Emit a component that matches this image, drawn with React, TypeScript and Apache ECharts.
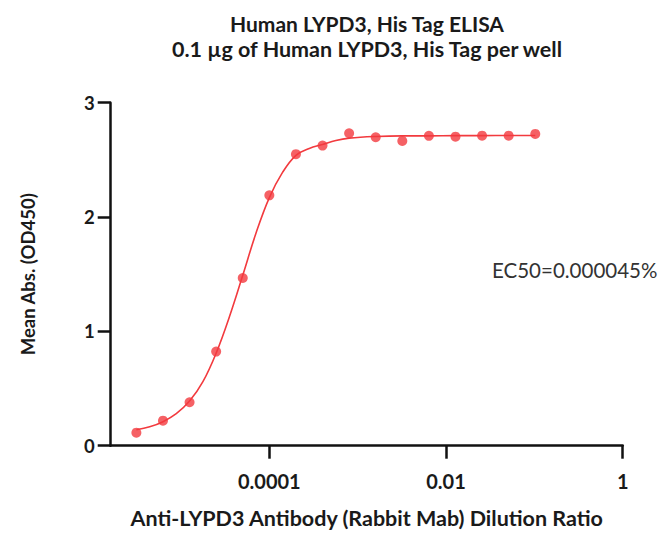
import React, { useEffect, useRef } from 'react';
import * as echarts from 'echarts';

const titleLines = ['Human LYPD3, His Tag ELISA', '0.1 µg of Human LYPD3, His Tag per well'];
const xAxisName = 'Anti-LYPD3 Antibody (Rabbit Mab) Dilution Ratio';
const yAxisName = 'Mean Abs. (OD450)';
const ec50Label = 'EC50=0.000045%';

// measured points
const dilution = [
  0.000003125, 0.00000625, 0.0000125, 0.000025, 0.00005, 0.0001, 0.0002, 0.0004,
  0.0008, 0.0016, 0.0032, 0.0064, 0.0128, 0.0256, 0.0512, 0.1024,
];
const meanAbs = [
  0.114, 0.219, 0.38, 0.823, 1.467, 2.19, 2.55, 2.625,
  2.733, 2.698, 2.666, 2.71, 2.703, 2.712, 2.712, 2.727,
];

// fitted curve
const curveX = [
  0.000003125, 0.00000442, 0.00000625, 0.00000884, 0.0000125, 0.0000177, 0.000025, 0.0000354,
  0.00005, 0.0000707, 0.0001, 0.000141, 0.0002, 0.000283, 0.0004, 0.000566,
  0.0008, 0.0016, 0.0032, 0.0064, 0.0128, 0.0256, 0.0512, 0.1024,
];
const curveY = [
  0.14, 0.165, 0.21, 0.28, 0.39, 0.56, 0.81, 1.13,
  1.49, 1.86, 2.17, 2.39, 2.54, 2.6, 2.635, 2.67,
  2.69, 2.705, 2.71, 2.71, 2.712, 2.712, 2.713, 2.713,
];

const xMin = 0.0000016;
const xMax = 1;
const xTickValues = [0.0001, 0.01, 1];
const xTickLabels = ['0.0001', '0.01', '1'];
const yMin = 0;
const yMax = 3;
const yInterval = 1;

const RED = '#f23a3e';
const FONT = 'Lato, "Noto Sans", sans-serif';

export default function App() {
  const ref = useRef<HTMLDivElement>(null);

  useEffect(() => {
    if (!ref.current) return;
    const chart = echarts.init(ref.current, undefined, { renderer: 'svg' });
    const option = {
      animation: false,
      backgroundColor: '#ffffff',
      grid: { left: 110.7, right: 37.3, top: 102.7, bottom: 91.3, containLabel: false },
      graphic: [
        {
          type: 'text', x: 367, y: 23,
          style: { text: titleLines[0], align: 'center', verticalAlign: 'middle', font: `bold 21px ${FONT}`, fill: '#1a1a1a' },
        },
        {
          type: 'text', x: 367, y: 48.5,
          style: { text: titleLines[1], align: 'center', verticalAlign: 'middle', font: `bold 21.5px ${FONT}`, fill: '#1a1a1a' },
        },
        {
          type: 'text', x: 492, y: 270,
          style: { text: ec50Label, align: 'left', verticalAlign: 'middle', font: `20.5px ${FONT}`, fill: '#333333' },
        },
      ],
      xAxis: {
        type: 'log',
        logBase: 10,
        min: xMin,
        max: xMax,
        name: xAxisName,
        nameLocation: 'middle',
        nameGap: 61,
        nameTextStyle: { fontFamily: FONT, fontWeight: 'bold', fontSize: 21.5, color: '#1a1a1a' },
        axisLine: { show: true, lineStyle: { color: '#111', width: 2.5 } },
        axisTick: { show: true, inside: false, length: 13, lineStyle: { color: '#111', width: 2.5 }, customValues: xTickValues },
        axisLabel: {
          customValues: xTickValues,
          margin: 25,
          fontFamily: FONT, fontWeight: 'bold', fontSize: 20, color: '#1a1a1a',
          formatter: (v: number) => {
            let best = 0;
            for (let i = 0; i < xTickValues.length; i++) {
              if (Math.abs(Math.log10(v) - Math.log10(xTickValues[i])) < Math.abs(Math.log10(v) - Math.log10(xTickValues[best]))) best = i;
            }
            return xTickLabels[best];
          },
        },
        splitLine: { show: false },
        minorTick: { show: false },
      },
      yAxis: {
        type: 'value',
        min: yMin,
        max: yMax,
        interval: yInterval,
        name: yAxisName,
        nameLocation: 'middle',
        nameGap: 73,
        nameTextStyle: { fontFamily: FONT, fontWeight: 'bold', fontSize: 18.5, color: '#1a1a1a' },
        axisLine: { show: true, lineStyle: { color: '#111', width: 2.5 } },
        axisTick: { show: true, inside: false, length: 13, lineStyle: { color: '#111', width: 2.5 } },
        axisLabel: { margin: 16, fontFamily: FONT, fontWeight: 'bold', fontSize: 18.5, color: '#1a1a1a' },
        splitLine: { show: false },
      },
      series: [
        {
          type: 'line',
          data: curveX.map((x, i) => [x, curveY[i]]),
          smooth: 0.4,
          showSymbol: false,
          lineStyle: { color: RED, width: 1.6 },
          z: 2,
        },
        {
          type: 'scatter',
          data: dilution.map((x, i) => [x, meanAbs[i]]),
          symbol: 'circle',
          symbolSize: 10,
          itemStyle: { color: RED },
          z: 3,
        },
      ],
    };
    chart.setOption(option as any);
    return () => chart.dispose();
  }, []);

  return (
    <div
      ref={ref}
      style={{ width: 660, height: 537, position: 'absolute', left: 0, top: 0 }}
    />
  );
}
